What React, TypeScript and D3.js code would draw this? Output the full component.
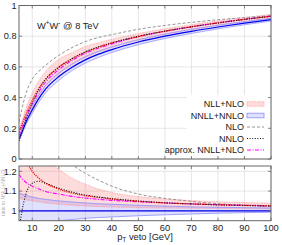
import * as d3 from "d3";

// pT veto grid (GeV)
const ptVeto = [5, 6, 7.5, 10, 12.5, 15, 20, 25, 30, 35, 40, 50, 60, 70, 80, 90, 100];

// jet-veto efficiency, top panel
const nnllNnloMid = [0.13, 0.17, 0.235, 0.32, 0.395, 0.455, 0.537, 0.598, 0.646, 0.683, 0.713, 0.762, 0.8, 0.832, 0.86, 0.885, 0.908];
const nnllNnloUp = [0.142, 0.185, 0.254, 0.343, 0.42, 0.479, 0.561, 0.62, 0.668, 0.703, 0.731, 0.778, 0.814, 0.845, 0.872, 0.895, 0.917];
const nnllNnloDn = [0.12, 0.157, 0.218, 0.298, 0.371, 0.431, 0.512, 0.576, 0.624, 0.662, 0.694, 0.745, 0.785, 0.818, 0.848, 0.874, 0.899];
const nllNloMid = [0.175, 0.22, 0.29, 0.382, 0.46, 0.518, 0.596, 0.652, 0.696, 0.729, 0.756, 0.798, 0.833, 0.862, 0.887, 0.91, 0.93];
const nllNloUp = [0.195, 0.245, 0.325, 0.43, 0.51, 0.57, 0.65, 0.693, 0.733, 0.758, 0.78, 0.817, 0.848, 0.875, 0.9, 0.922, 0.942];
const nllNloDn = [0.139, 0.181, 0.248, 0.336, 0.413, 0.474, 0.555, 0.615, 0.661, 0.697, 0.727, 0.774, 0.811, 0.843, 0.871, 0.895, 0.917];
const nloEff = [0.24, 0.32, 0.42, 0.52, 0.572, 0.61, 0.675, 0.726, 0.765, 0.792, 0.81, 0.845, 0.87, 0.89, 0.907, 0.921, 0.934];
const nnloEff = [0.118, 0.17, 0.254, 0.365, 0.455, 0.519, 0.599, 0.654, 0.698, 0.731, 0.757, 0.8, 0.833, 0.861, 0.886, 0.909, 0.93];
const approxEff = [0.154, 0.198, 0.269, 0.36, 0.438, 0.5, 0.582, 0.642, 0.688, 0.722, 0.75, 0.797, 0.832, 0.861, 0.887, 0.91, 0.93];

// ratio to NNLL+NNLO, bottom panel
const ratioNnllUp = [1.09, 1.085, 1.078, 1.07, 1.063, 1.058, 1.05, 1.045, 1.04, 1.036, 1.033, 1.028, 1.024, 1.02, 1.018, 1.016, 1.014];
const ratioNnllDn = [0.92, 0.923, 0.927, 0.932, 0.937, 0.941, 0.95, 0.956, 0.962, 0.966, 0.969, 0.975, 0.98, 0.984, 0.988, 0.991, 0.993];
const ratioNllMid = [1.36, 1.31, 1.26, 1.2, 1.165, 1.14, 1.11, 1.09, 1.077, 1.068, 1.06, 1.048, 1.04, 1.035, 1.031, 1.028, 1.026];
const ratioNllUp = [1.5, 1.45, 1.4, 1.34, 1.29, 1.26, 1.21, 1.165, 1.135, 1.11, 1.093, 1.072, 1.06, 1.052, 1.046, 1.042, 1.039];
const ratioNllDn = [1.063, 1.06, 1.055, 1.05, 1.045, 1.04, 1.033, 1.028, 1.024, 1.021, 1.019, 1.016, 1.014, 1.013, 1.012, 1.011, 1.01];
const ratioNlo = [1.9, 1.85, 1.75, 1.62, 1.45, 1.36, 1.3, 1.235, 1.19, 1.155, 1.125, 1.085, 1.063, 1.048, 1.036, 1.028, 1.022];
const ratioNnlo = [0.9, 0.99, 1.08, 1.14, 1.15, 1.14, 1.115, 1.095, 1.08, 1.07, 1.062, 1.05, 1.041, 1.035, 1.03, 1.027, 1.024];
const ratioApprox = [1.185, 1.165, 1.145, 1.125, 1.11, 1.098, 1.085, 1.073, 1.065, 1.058, 1.053, 1.046, 1.04, 1.035, 1.031, 1.028, 1.025];
const ratioOne = ptVeto.map(() => 1);

const xTicks = [10, 20, 30, 40, 50, 60, 70, 80, 90, 100];
const yTicksTop = [0, 0.2, 0.4, 0.6, 0.8, 1];
const yTicksRatio = [1, 1.1, 1.2];

const legendItems = [
  { label: "NLL+NLO", kind: "redband" },
  { label: "NNLL+NNLO", kind: "blueband" },
  { label: "NLO", kind: "nlo" },
  { label: "NNLO", kind: "nnlo" },
  { label: "approx. NNLL+NLO", kind: "approx" },
];

const W = 282;
const H = 245;
const X0 = 19;
const X1 = 271;
const FONT = "'Liberation Sans', Arial, sans-serif";
const TXT = "#222";
const FRAME = "#666";
const GRID = "#dcdcdc";

const RED_FILL = "rgba(255,60,60,0.18)";
const RED_EDGE = "#ff9a9a";
const RED = "#ee1111";
const BLUE_FILL = "rgba(60,60,255,0.16)";
const BLUE_EDGE = "#8c8cff";
const BLUE = "#0000ee";
const GRAY = "#888";
const MAGENTA = "#ff00ff";

export default function App() {
  const x = d3.scaleLinear().domain([5, 100]).range([X0, X1]);
  const yTop = d3.scaleLinear().domain([0, 1]).range([159, 5.5]);
  const yRat = d3.scaleLinear().domain([0.95, 1.227]).range([220.7, 166]);

  const mkLine = (y: d3.ScaleLinear<number, number>, vals: number[]) =>
    d3
      .line<number>()
      .x((_, i) => x(ptVeto[i]))
      .y((v) => y(v))
      .curve(d3.curveMonotoneX)(vals) || "";

  const mkArea = (y: d3.ScaleLinear<number, number>, lo: number[], hi: number[]) =>
    d3
      .area<number>()
      .x((_, i) => x(ptVeto[i]))
      .y0((_, i) => y(lo[i]))
      .y1((v) => y(v))
      .curve(d3.curveMonotoneX)(hi) || "";

  const panel = (
    y: d3.ScaleLinear<number, number>,
    yTicks: number[],
    fmt: (v: number) => string,
    top: number,
    bottom: number
  ) => (
    <g>
      {xTicks.map((t) => (
        <line key={"gx" + t} x1={x(t)} x2={x(t)} y1={top} y2={bottom} stroke={GRID} strokeWidth={0.7} />
      ))}
      {yTicks.map((t) => (
        <line key={"gy" + t} x1={X0} x2={X1} y1={y(t)} y2={y(t)} stroke={GRID} strokeWidth={0.7} />
      ))}
      {yTicks.map((t) => (
        <text key={"ly" + t} x={16.5} y={y(t)} dy="0.35em" textAnchor="end" fontSize={9.2} fill={TXT} fontFamily={FONT}>
          {fmt(t)}
        </text>
      ))}
    </g>
  );

  const frame = (top: number, bottom: number, y: d3.ScaleLinear<number, number>, yTicks: number[]) => (
    <g>
      <rect x={X0} y={top} width={X1 - X0} height={bottom - top} fill="none" stroke={FRAME} strokeWidth={1} />
      {xTicks.map((t) => (
        <g key={"tx" + t}>
          <line x1={x(t)} x2={x(t)} y1={bottom} y2={bottom - 3} stroke={FRAME} strokeWidth={0.8} />
          <line x1={x(t)} x2={x(t)} y1={top} y2={top + 3} stroke={FRAME} strokeWidth={0.8} />
        </g>
      ))}
      {yTicks.map((t) => (
        <g key={"ty" + t}>
          <line x1={X0} x2={X0 + 3} y1={y(t)} y2={y(t)} stroke={FRAME} strokeWidth={0.8} />
          <line x1={X1} x2={X1 - 3} y1={y(t)} y2={y(t)} stroke={FRAME} strokeWidth={0.8} />
        </g>
      ))}
    </g>
  );

  const legX = 244;
  const sampX = 247;
  const sampW = 17;
  const legY0 = 104;
  const legDy = 11.5;

  return (
    <svg width={W} height={H} style={{ position: "absolute", left: 0, top: 0, display: "block", background: "#fff" }}>
      <defs>
        <clipPath id="clipTop">
          <rect x={X0} y={5.5} width={X1 - X0} height={159 - 5.5} />
        </clipPath>
        <clipPath id="clipRat">
          <rect x={X0} y={166} width={X1 - X0} height={220.7 - 166} />
        </clipPath>
      </defs>

      {/* top panel: efficiency */}
      {panel(yTop, yTicksTop, (v) => (v === 0 || v === 1 ? String(v) : v.toFixed(1)), 5.5, 159)}
      <g clipPath="url(#clipTop)">
        <path d={mkArea(yTop, nllNloDn, nllNloUp)} fill={RED_FILL} />
        <path d={mkArea(yTop, nnllNnloDn, nnllNnloUp)} fill={BLUE_FILL} />
        <path d={mkLine(yTop, nllNloUp)} fill="none" stroke={RED_EDGE} strokeWidth={0.7} strokeDasharray="1.5,1" />
        <path d={mkLine(yTop, nllNloDn)} fill="none" stroke={RED_EDGE} strokeWidth={0.7} strokeDasharray="1.5,1" />
        <path d={mkLine(yTop, nnllNnloUp)} fill="none" stroke={BLUE_EDGE} strokeWidth={0.7} />
        <path d={mkLine(yTop, nnllNnloDn)} fill="none" stroke={BLUE_EDGE} strokeWidth={0.7} />
        <path d={mkLine(yTop, nloEff)} fill="none" stroke={GRAY} strokeWidth={0.9} strokeDasharray="3,2" />
        <path d={mkLine(yTop, approxEff)} fill="none" stroke={MAGENTA} strokeWidth={1.1} strokeDasharray="4,1.5,1,1.5" />
        <path d={mkLine(yTop, nnllNnloMid)} fill="none" stroke={BLUE} strokeWidth={1.2} />
        <path d={mkLine(yTop, nllNloMid)} fill="none" stroke={RED} strokeWidth={1.3} strokeDasharray="1.2,1" />
        <path d={mkLine(yTop, nnloEff)} fill="none" stroke="#111" strokeWidth={1.1} strokeDasharray="1,1.6" />
      </g>
      <text x={37} y={28.5} fontSize={9.3} fill={TXT} fontFamily={FONT}>
        W<tspan dy={-3.5} fontSize={6.5}>+</tspan>
        <tspan dy={3.5}>W</tspan>
        <tspan dy={-3.5} fontSize={6.5}>-</tspan>
        <tspan dy={3.5}> @ 8 TeV</tspan>
      </text>

      {/* legend */}
      <rect x={187} y={95} width={X1 - 187} height={62} fill="#fff" />
      {legendItems.map((d, i) => {
        const cy = legY0 + i * legDy;
        return (
          <g key={d.label}>
            <text x={legX} y={cy} dy="0.35em" textAnchor="end" fontSize={9} fill={TXT} fontFamily={FONT}>
              {d.label}
            </text>
            {d.kind === "redband" && (
              <rect x={sampX} y={cy - 2.3} width={sampW} height={4.6} fill={RED_FILL} stroke={RED_EDGE} strokeWidth={0.7} strokeDasharray="1.5,1" />
            )}
            {d.kind === "blueband" && (
              <rect x={sampX} y={cy - 2.3} width={sampW} height={4.6} fill={BLUE_FILL} stroke={BLUE_EDGE} strokeWidth={0.8} />
            )}
            {d.kind === "nlo" && (
              <line x1={sampX} x2={sampX + sampW} y1={cy} y2={cy} stroke={GRAY} strokeWidth={0.9} strokeDasharray="3,2" />
            )}
            {d.kind === "nnlo" && (
              <line x1={sampX} x2={sampX + sampW} y1={cy} y2={cy} stroke="#111" strokeWidth={1} strokeDasharray="1,1.6" />
            )}
            {d.kind === "approx" && (
              <line x1={sampX} x2={sampX + sampW} y1={cy} y2={cy} stroke={MAGENTA} strokeWidth={1.1} strokeDasharray="4,1.5,1,1.5" />
            )}
          </g>
        );
      })}
      {frame(5.5, 159, yTop, yTicksTop)}

      {/* ratio panel */}
      {panel(yRat, yTicksRatio, (v) => (v === 1 ? "1" : v.toFixed(1)), 166, 220.7)}
      <g clipPath="url(#clipRat)">
        <path d={mkArea(yRat, ratioNllDn, ratioNllUp)} fill={RED_FILL} />
        <path d={mkArea(yRat, ratioNnllDn, ratioNnllUp)} fill={BLUE_FILL} />
        <path d={mkLine(yRat, ratioNllUp)} fill="none" stroke={RED_EDGE} strokeWidth={0.7} strokeDasharray="1.5,1" />
        <path d={mkLine(yRat, ratioNllDn)} fill="none" stroke={RED_EDGE} strokeWidth={0.8} strokeDasharray="1.5,1" />
        <path d={mkLine(yRat, ratioNnllUp)} fill="none" stroke={BLUE_EDGE} strokeWidth={0.8} />
        <path d={mkLine(yRat, ratioNnllDn)} fill="none" stroke={BLUE_EDGE} strokeWidth={0.8} />
        <path d={mkLine(yRat, ratioNlo)} fill="none" stroke={GRAY} strokeWidth={0.9} strokeDasharray="3,2" />
        <path d={mkLine(yRat, ratioApprox)} fill="none" stroke={MAGENTA} strokeWidth={1.1} strokeDasharray="4,1.5,1,1.5" />
        <path d={mkLine(yRat, ratioOne)} fill="none" stroke={BLUE} strokeWidth={1.2} />
        <path d={mkLine(yRat, ratioNllMid)} fill="none" stroke={RED} strokeWidth={1.3} strokeDasharray="1.2,1" />
        <path d={mkLine(yRat, ratioNnlo)} fill="none" stroke="#111" strokeWidth={1.1} strokeDasharray="1,1.6" />
      </g>
      {frame(166, 220.7, yRat, yTicksRatio)}
      <text transform="translate(5,193) rotate(-90)" textAnchor="middle" fontSize={5} fill="#aaa" fontFamily={FONT}>
        ratio to NNLL+NNLO
      </text>

      {/* x axis */}
      {xTicks.map((t) => (
        <text key={"lx" + t} x={x(t)} y={230.5} textAnchor="middle" fontSize={9.3} fill={TXT} fontFamily={FONT}>
          {t}
        </text>
      ))}
      <text x={(X0 + X1) / 2} y={240} textAnchor="middle" fontSize={9.3} fill={TXT} fontFamily={FONT}>
        p<tspan dy={2} fontSize={6.5}>T</tspan>
        <tspan dy={-2}> veto [GeV]</tspan>
      </text>
    </svg>
  );
}
